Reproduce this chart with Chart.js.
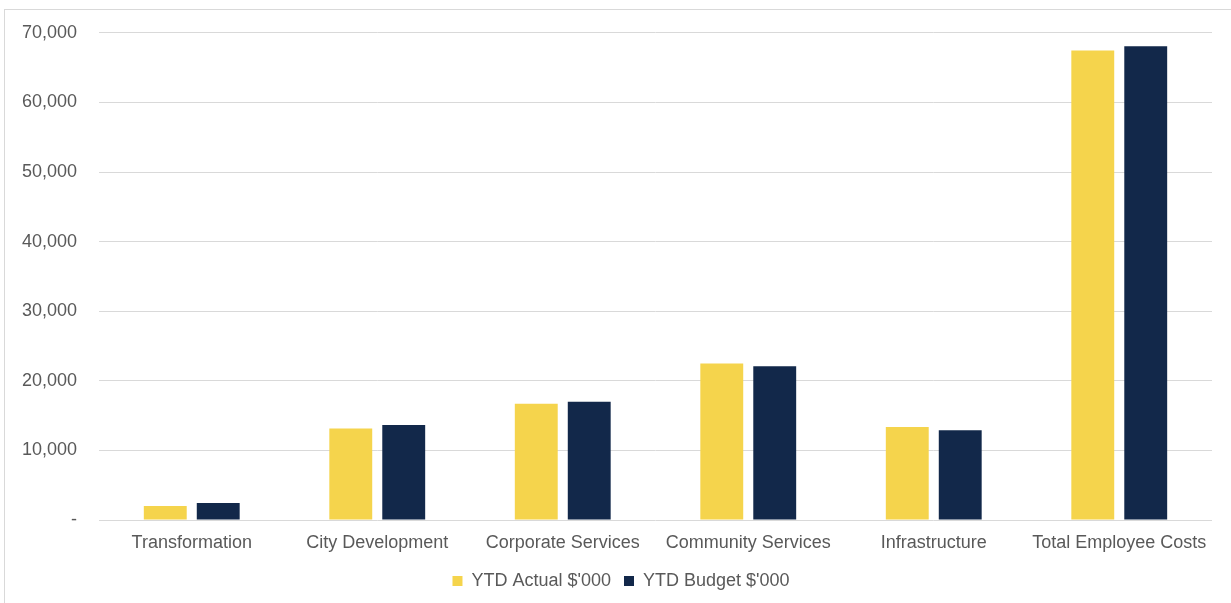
<!DOCTYPE html>
<html>
<head>
<meta charset="utf-8">
<script src="https://cdn.jsdelivr.net/npm/chart.js@4/dist/chart.umd.min.js"></script>
<style>
  html, body { margin: 0; padding: 0; background: #fff; overflow: hidden; }
  .frame { position: absolute; left: 4px; top: 9px; width: 1260px; height: 640px; border: 1px solid #d9d9d9; }
  .wrap { position: absolute; left: 0; top: 0; width: 1231px; height: 603px; }
</style>
</head>
<body>
<div class="frame"></div>
<div class="wrap"><canvas id="chartCostos"></canvas></div>
<script>
const categorias = ['Transformation', 'City Development', 'Corporate Services', 'Community Services', 'Infrastructure', 'Total Employee Costs'];
const ytdActual = [2000, 13150, 16700, 22500, 13350, 67450];
const ytdBudget = [2450, 13650, 17000, 22100, 12900, 68050];
const yTicks = [0, 10000, 20000, 30000, 40000, 50000, 60000, 70000];

const gris = '#595959';
const fuente = { family: '"Liberation Sans", Arial, sans-serif', size: 18 };

// la leyenda va centrada en el marco, un poco a la derecha del lienzo
const moverLeyenda = {
    id: 'moverLeyenda',
    afterLayout(chart) {
        chart.legend.left += 15;
        chart.legend.right += 15;
    }
};

new Chart(document.getElementById('chartCostos'), {
    type: 'bar',
    data: {
        labels: categorias,
        datasets: [
            { label: "YTD Actual $'000", data: ytdActual, backgroundColor: '#F5D44C', categoryPercentage: 0.571, barPercentage: 0.81 },
            { label: "YTD Budget $'000", data: ytdBudget, backgroundColor: '#12284A', categoryPercentage: 0.571, barPercentage: 0.81 }
        ]
    },
    plugins: [moverLeyenda],
    options: {
        responsive: true, maintainAspectRatio: false, animation: false,
        layout: { padding: { top: 31, right: 19, left: 0, bottom: 3 } },
        plugins: {
            tooltip: { enabled: false },
            legend: {
                position: 'bottom',
                labels: { color: gris, font: fuente, boxWidth: 10, boxHeight: 10, padding: 13 }
            }
        },
        scales: {
            x: {
                afterFit: s => { s.height = 39; },
                grid: { display: false },
                border: { display: false },
                ticks: { color: gris, font: fuente, padding: 4, maxRotation: 0, autoSkip: false }
            },
            y: {
                min: 0, max: 70000,
                afterFit: s => { s.width = 99; },
                afterBuildTicks: s => { s.ticks = yTicks.map(v => ({ value: v })); },
                grid: { color: '#d9d9d9', drawTicks: false },
                border: { display: false },
                ticks: {
                    color: gris, font: fuente, padding: 22,
                    callback: v => v === 0 ? '-' : v.toLocaleString('en-US')
                }
            }
        }
    }
});
</script>
</body>
</html>
